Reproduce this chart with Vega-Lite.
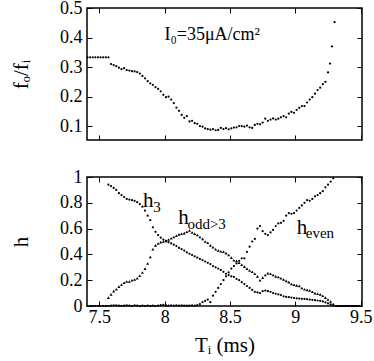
{
  "$schema": "https://vega.github.io/schema/vega-lite/v6.json",
  "padding": {"left": 9, "top": -2, "right": 8, "bottom": 2},
  "config": {
    "font": "Liberation Serif",
    "view": {"stroke": "black", "strokeWidth": 1.5},
    "axis": {"domain": false, "grid": false, "tickSize": -5, "tickColor": "black", "tickWidth": 1, "labelFontSize": 18, "labelColor": "black", "labelPadding": 10, "titleFontSize": 21, "titleFontWeight": "normal", "titleColor": "black", "labelFont": "Liberation Serif", "titleFont": "Liberation Serif",
      "encode": {"labels": {"update": {"font": {"value": "Liberation Serif"}}}, "title": {"update": {"font": {"value": "Liberation Serif"}}}}},
    "text": {"font": "Liberation Serif", "color": "black"}
  },
  "datasets": {
    "top": [
      {"t":7.41,"v":0.333},{"t":7.43,"v":0.333},{"t":7.45,"v":0.333},{"t":7.47,"v":0.333},{"t":7.49,"v":0.333},{"t":7.51,"v":0.333},{"t":7.53,"v":0.333},{"t":7.55,"v":0.333},{"t":7.57,"v":0.333},
      {"t":7.59,"v":0.31},{"t":7.61,"v":0.307},{"t":7.63,"v":0.303},{"t":7.65,"v":0.298},{"t":7.67,"v":0.293},{"t":7.69,"v":0.296},{"t":7.71,"v":0.29},{"t":7.73,"v":0.288},{"t":7.75,"v":0.286},{"t":7.77,"v":0.285},{"t":7.79,"v":0.283},{"t":7.81,"v":0.278},{"t":7.83,"v":0.27},{"t":7.85,"v":0.262},{"t":7.87,"v":0.252},{"t":7.89,"v":0.245},{"t":7.91,"v":0.24},{"t":7.93,"v":0.232},{"t":7.95,"v":0.226},{"t":7.97,"v":0.218},{"t":7.99,"v":0.206},{"t":8.01,"v":0.198},{"t":8.03,"v":0.2},{"t":8.05,"v":0.19},{"t":8.07,"v":0.178},{"t":8.09,"v":0.163},{"t":8.11,"v":0.152},{"t":8.13,"v":0.138},{"t":8.15,"v":0.128},{"t":8.17,"v":0.134},{"t":8.19,"v":0.116},{"t":8.21,"v":0.118},{"t":8.23,"v":0.11},{"t":8.25,"v":0.108},{"t":8.27,"v":0.1},{"t":8.29,"v":0.098},{"t":8.31,"v":0.092},{"t":8.33,"v":0.09},{"t":8.35,"v":0.088},{"t":8.37,"v":0.09},{"t":8.39,"v":0.086},{"t":8.41,"v":0.087},{"t":8.43,"v":0.094},{"t":8.45,"v":0.09},{"t":8.47,"v":0.093},{"t":8.49,"v":0.089},{"t":8.51,"v":0.092},{"t":8.53,"v":0.095},{"t":8.55,"v":0.096},{"t":8.57,"v":0.1},{"t":8.59,"v":0.1},{"t":8.61,"v":0.098},{"t":8.63,"v":0.102},{"t":8.65,"v":0.096},{"t":8.67,"v":0.094},{"t":8.69,"v":0.104},{"t":8.71,"v":0.108},{"t":8.73,"v":0.106},{"t":8.75,"v":0.112},{"t":8.77,"v":0.125},{"t":8.79,"v":0.118},{"t":8.81,"v":0.122},{"t":8.83,"v":0.126},{"t":8.85,"v":0.122},{"t":8.87,"v":0.125},{"t":8.89,"v":0.13},{"t":8.91,"v":0.134},{"t":8.93,"v":0.13},{"t":8.95,"v":0.142},{"t":8.97,"v":0.148},{"t":8.99,"v":0.145},{"t":9.01,"v":0.155},{"t":9.03,"v":0.162},{"t":9.05,"v":0.168},{"t":9.07,"v":0.168},{"t":9.09,"v":0.18},{"t":9.11,"v":0.19},{"t":9.13,"v":0.198},{"t":9.15,"v":0.21},{"t":9.17,"v":0.222},{"t":9.19,"v":0.23},{"t":9.21,"v":0.242},{"t":9.23,"v":0.25},{"t":9.25,"v":0.282},{"t":9.265,"v":0.312},{"t":9.28,"v":0.37},{"t":9.3,"v":0.452}
    ],
    "h3": [
      {"t":7.57,"v":0.94},{"t":7.59,"v":0.93},{"t":7.61,"v":0.915},{"t":7.63,"v":0.9},{"t":7.65,"v":0.875},{"t":7.67,"v":0.86},{"t":7.69,"v":0.845},{"t":7.71,"v":0.83},{"t":7.73,"v":0.825},{"t":7.75,"v":0.82},{"t":7.77,"v":0.815},{"t":7.79,"v":0.805},{"t":7.81,"v":0.79},{"t":7.83,"v":0.77},{"t":7.85,"v":0.74},{"t":7.87,"v":0.7},{"t":7.89,"v":0.665},{"t":7.91,"v":0.61},{"t":7.93,"v":0.575},{"t":7.95,"v":0.55},{"t":7.97,"v":0.53},{"t":7.99,"v":0.515},{"t":8.01,"v":0.505},{"t":8.03,"v":0.495},{"t":8.05,"v":0.485},{"t":8.07,"v":0.475},{"t":8.09,"v":0.465},{"t":8.11,"v":0.45},{"t":8.13,"v":0.44},{"t":8.15,"v":0.43},{"t":8.17,"v":0.415},{"t":8.19,"v":0.405},{"t":8.21,"v":0.395},{"t":8.23,"v":0.385},{"t":8.25,"v":0.375},{"t":8.27,"v":0.365},{"t":8.29,"v":0.355},{"t":8.31,"v":0.345},{"t":8.33,"v":0.335},{"t":8.35,"v":0.325},{"t":8.37,"v":0.31},{"t":8.39,"v":0.3},{"t":8.41,"v":0.29},{"t":8.43,"v":0.28},{"t":8.45,"v":0.265},{"t":8.47,"v":0.25},{"t":8.49,"v":0.24},{"t":8.51,"v":0.23},{"t":8.53,"v":0.225},{"t":8.55,"v":0.21},{"t":8.57,"v":0.2},{"t":8.59,"v":0.185},{"t":8.61,"v":0.17},{"t":8.63,"v":0.155},{"t":8.65,"v":0.14},{"t":8.67,"v":0.125},{"t":8.69,"v":0.11},{"t":8.71,"v":0.105},{"t":8.73,"v":0.1},{"t":8.75,"v":0.115},{"t":8.77,"v":0.12},{"t":8.79,"v":0.115},{"t":8.81,"v":0.11},{"t":8.83,"v":0.1},{"t":8.85,"v":0.095},{"t":8.87,"v":0.09},{"t":8.89,"v":0.085},{"t":8.91,"v":0.075},{"t":8.93,"v":0.07},{"t":8.95,"v":0.068},{"t":8.97,"v":0.065},{"t":8.99,"v":0.062},{"t":9.01,"v":0.06},{"t":9.03,"v":0.058},{"t":9.05,"v":0.056},{"t":9.07,"v":0.055},{"t":9.09,"v":0.053},{"t":9.11,"v":0.05},{"t":9.13,"v":0.048},{"t":9.15,"v":0.045},{"t":9.17,"v":0.042},{"t":9.19,"v":0.04},{"t":9.21,"v":0.035},{"t":9.23,"v":0.028},{"t":9.25,"v":0.02},{"t":9.27,"v":0.012},{"t":9.29,"v":0.004},
      {"t":9.31,"v":0},{"t":9.33,"v":0},{"t":9.35,"v":0},{"t":9.37,"v":0},{"t":9.39,"v":0},{"t":9.41,"v":0},{"t":9.43,"v":0},{"t":9.45,"v":0},{"t":9.47,"v":0},{"t":9.49,"v":0}
    ],
    "hodd": [
      {"t":7.57,"v":0.065},{"t":7.59,"v":0.09},{"t":7.61,"v":0.115},{"t":7.63,"v":0.13},{"t":7.65,"v":0.15},{"t":7.67,"v":0.165},{"t":7.69,"v":0.18},{"t":7.71,"v":0.19},{"t":7.73,"v":0.19},{"t":7.75,"v":0.2},{"t":7.77,"v":0.205},{"t":7.79,"v":0.215},{"t":7.81,"v":0.235},{"t":7.83,"v":0.26},{"t":7.85,"v":0.29},{"t":7.87,"v":0.33},{"t":7.89,"v":0.38},{"t":7.91,"v":0.44},{"t":7.93,"v":0.47},{"t":7.95,"v":0.485},{"t":7.97,"v":0.495},{"t":7.99,"v":0.5},{"t":8.01,"v":0.505},{"t":8.03,"v":0.515},{"t":8.05,"v":0.525},{"t":8.07,"v":0.535},{"t":8.09,"v":0.545},{"t":8.11,"v":0.555},{"t":8.13,"v":0.56},{"t":8.15,"v":0.565},{"t":8.17,"v":0.575},{"t":8.19,"v":0.585},{"t":8.21,"v":0.57},{"t":8.23,"v":0.56},{"t":8.25,"v":0.55},{"t":8.27,"v":0.535},{"t":8.29,"v":0.52},{"t":8.31,"v":0.5},{"t":8.33,"v":0.49},{"t":8.35,"v":0.47},{"t":8.37,"v":0.455},{"t":8.39,"v":0.44},{"t":8.41,"v":0.43},{"t":8.43,"v":0.425},{"t":8.45,"v":0.42},{"t":8.47,"v":0.41},{"t":8.49,"v":0.395},{"t":8.51,"v":0.375},{"t":8.53,"v":0.355},{"t":8.55,"v":0.35},{"t":8.57,"v":0.335},{"t":8.59,"v":0.32},{"t":8.61,"v":0.305},{"t":8.63,"v":0.29},{"t":8.65,"v":0.275},{"t":8.67,"v":0.265},{"t":8.69,"v":0.25},{"t":8.71,"v":0.23},{"t":8.73,"v":0.2},{"t":8.75,"v":0.22},{"t":8.77,"v":0.24},{"t":8.79,"v":0.255},{"t":8.81,"v":0.25},{"t":8.83,"v":0.24},{"t":8.85,"v":0.23},{"t":8.87,"v":0.225},{"t":8.89,"v":0.215},{"t":8.91,"v":0.205},{"t":8.93,"v":0.195},{"t":8.95,"v":0.185},{"t":8.97,"v":0.17},{"t":8.99,"v":0.165},{"t":9.01,"v":0.16},{"t":9.03,"v":0.155},{"t":9.05,"v":0.14},{"t":9.07,"v":0.13},{"t":9.09,"v":0.125},{"t":9.11,"v":0.12},{"t":9.13,"v":0.11},{"t":9.15,"v":0.1},{"t":9.17,"v":0.095},{"t":9.19,"v":0.09},{"t":9.21,"v":0.08},{"t":9.23,"v":0.065},{"t":9.25,"v":0.05},{"t":9.27,"v":0.035},{"t":9.29,"v":0.015}
    ],
    "heven": [
      {"t":7.41,"v":0},{"t":7.43,"v":0},{"t":7.45,"v":0},{"t":7.47,"v":0},{"t":7.49,"v":0},{"t":7.51,"v":0},{"t":7.53,"v":0},{"t":7.55,"v":0},{"t":7.57,"v":0},{"t":7.59,"v":0.003},{"t":7.61,"v":0.005},{"t":7.63,"v":0.004},{"t":7.65,"v":0.002},{"t":7.67,"v":0},{"t":7.69,"v":0.003},{"t":7.71,"v":0.005},{"t":7.73,"v":0.002},{"t":7.75,"v":0},{"t":7.77,"v":0.004},{"t":7.79,"v":0.002},{"t":7.81,"v":0},{"t":7.83,"v":0.002},{"t":7.85,"v":0},{"t":7.87,"v":0.003},{"t":7.89,"v":0},{"t":7.91,"v":0.002},{"t":7.93,"v":0},{"t":7.95,"v":0.003},{"t":7.97,"v":0.006},{"t":7.99,"v":0.008},{"t":8.01,"v":0.004},{"t":8.03,"v":0.002},{"t":8.05,"v":0.004},{"t":8.07,"v":0.003},{"t":8.09,"v":0.005},{"t":8.11,"v":0.003},{"t":8.13,"v":0.004},{"t":8.15,"v":0.002},{"t":8.17,"v":0.003},{"t":8.19,"v":0.002},{"t":8.21,"v":0.004},{"t":8.23,"v":0.003},{"t":8.25,"v":0.006},
      {"t":8.27,"v":0.015},{"t":8.29,"v":0.03},{"t":8.31,"v":0.04},{"t":8.33,"v":0.05},{"t":8.35,"v":0.03},{"t":8.37,"v":0.08},{"t":8.39,"v":0.11},{"t":8.41,"v":0.14},{"t":8.43,"v":0.17},{"t":8.45,"v":0.2},{"t":8.47,"v":0.23},{"t":8.49,"v":0.26},{"t":8.51,"v":0.29},{"t":8.53,"v":0.31},{"t":8.55,"v":0.33},{"t":8.57,"v":0.35},{"t":8.59,"v":0.37},{"t":8.61,"v":0.37},{"t":8.63,"v":0.42},{"t":8.65,"v":0.46},{"t":8.67,"v":0.5},{"t":8.69,"v":0.52},{"t":8.71,"v":0.6},{"t":8.73,"v":0.62},{"t":8.75,"v":0.58},{"t":8.77,"v":0.56},{"t":8.79,"v":0.55},{"t":8.81,"v":0.57},{"t":8.83,"v":0.59},{"t":8.85,"v":0.62},{"t":8.87,"v":0.64},{"t":8.89,"v":0.645},{"t":8.91,"v":0.66},{"t":8.93,"v":0.7},{"t":8.95,"v":0.72},{"t":8.97,"v":0.715},{"t":8.99,"v":0.72},{"t":9.01,"v":0.74},{"t":9.03,"v":0.76},{"t":9.05,"v":0.78},{"t":9.07,"v":0.8},{"t":9.09,"v":0.82},{"t":9.11,"v":0.815},{"t":9.13,"v":0.83},{"t":9.15,"v":0.85},{"t":9.17,"v":0.86},{"t":9.19,"v":0.875},{"t":9.21,"v":0.89},{"t":9.23,"v":0.92},{"t":9.25,"v":0.94},{"t":9.27,"v":0.965},{"t":9.29,"v":0.99},
      {"t":9.32,"v":0},{"t":9.34,"v":0},{"t":9.36,"v":0},{"t":9.38,"v":0},{"t":9.4,"v":0},{"t":9.42,"v":0},{"t":9.44,"v":0},{"t":9.46,"v":0},{"t":9.48,"v":0}
    ],
    "toplabel": [{"t":8.364,"v":0.41,"label":"I₀=35μA/cm²"}],
    "hmain": [{"t":7.834,"v":0.767,"label":"h"},{"t":8.104,"v":0.637,"label":"h"},{"t":9.01,"v":0.56,"label":"h"}],
    "hsub": [{"t":7.913,"v":0.728,"label":"3"},{"t":8.174,"v":0.598,"label":"odd>3"},{"t":9.08,"v":0.526,"label":"even"}]
  },
  "spacing": 25,
  "vconcat": [
    {
      "width": 275,
      "height": 132,
      "resolve": {"axis": {"x": "independent", "y": "independent"}},
      "layer": [
        {
          "data": {"name": "top"},
          "mark": {"type": "circle", "size": 5, "color": "black", "opacity": 1},
          "encoding": {
            "x": {"field": "t", "type": "quantitative", "scale": {"domain": [7.406, 9.51], "nice": false, "zero": false}, "axis": {"orient": "bottom", "values": [7.5, 8, 8.5, 9, 9.5], "labels": false, "title": null}},
            "y": {"field": "v", "type": "quantitative", "scale": {"domain": [0.053, 0.5], "nice": false, "zero": false}, "axis": {"orient": "left", "values": [0.1, 0.2, 0.3, 0.4, 0.5], "labelExpr": "'' + datum.value", "title": "fₒ/fᵢ", "titlePadding": 28}}
          }
        },
        {
          "data": {"name": "toplabel"},
          "mark": {"type": "text", "fontSize": 18, "align": "center", "baseline": "middle"},
          "encoding": {
            "x": {"field": "t", "type": "quantitative", "axis": {"orient": "top", "values": [7.5, 8, 8.5, 9, 9.5], "labels": false, "title": null}},
            "y": {"field": "v", "type": "quantitative", "axis": {"orient": "right", "values": [0.1, 0.2, 0.3, 0.4, 0.5], "labels": false, "title": null}},
            "text": {"field": "label"}
          }
        }
      ]
    },
    {
      "width": 275,
      "height": 129,
      "resolve": {"axis": {"x": "independent", "y": "independent"}},
      "layer": [
        {
          "data": {"name": "h3"},
          "mark": {"type": "circle", "size": 5, "color": "black", "opacity": 1},
          "encoding": {
            "x": {"field": "t", "type": "quantitative", "scale": {"domain": [7.406, 9.51], "nice": false, "zero": false}, "axis": {"orient": "bottom", "values": [7.5, 8, 8.5, 9, 9.5], "labelExpr": "'' + datum.value", "title": "Tᵢ (ms)", "titlePadding": 8, "labelPadding": 7}},
            "y": {"field": "v", "type": "quantitative", "scale": {"domain": [0, 1], "nice": false}, "axis": {"orient": "left", "values": [0, 0.2, 0.4, 0.6, 0.8, 1], "labelExpr": "'' + datum.value", "title": "h", "titlePadding": 28}}
          }
        },
        {
          "data": {"name": "heven"},
          "mark": {"type": "circle", "size": 5, "color": "black", "opacity": 1},
          "encoding": {
            "x": {"field": "t", "type": "quantitative", "axis": null},
            "y": {"field": "v", "type": "quantitative", "axis": null}
          }
        },
        {
          "data": {"name": "hodd"},
          "mark": {"type": "point", "shape": "triangle-up", "size": 9, "filled": true, "color": "black", "opacity": 1},
          "encoding": {
            "x": {"field": "t", "type": "quantitative", "axis": null},
            "y": {"field": "v", "type": "quantitative", "axis": null}
          }
        },
        {
          "data": {"name": "hmain"},
          "mark": {"type": "text", "fontSize": 21, "align": "left", "baseline": "alphabetic"},
          "encoding": {
            "x": {"field": "t", "type": "quantitative", "axis": {"orient": "top", "values": [7.5, 8, 8.5, 9, 9.5], "labels": false, "title": null}},
            "y": {"field": "v", "type": "quantitative", "axis": {"orient": "right", "values": [0, 0.2, 0.4, 0.6, 0.8, 1], "labels": false, "title": null}},
            "text": {"field": "label"}
          }
        },
        {
          "data": {"name": "hsub"},
          "mark": {"type": "text", "fontSize": 15, "align": "left", "baseline": "alphabetic"},
          "encoding": {
            "x": {"field": "t", "type": "quantitative", "axis": null},
            "y": {"field": "v", "type": "quantitative", "axis": null},
            "text": {"field": "label"}
          }
        }
      ]
    }
  ]
}
